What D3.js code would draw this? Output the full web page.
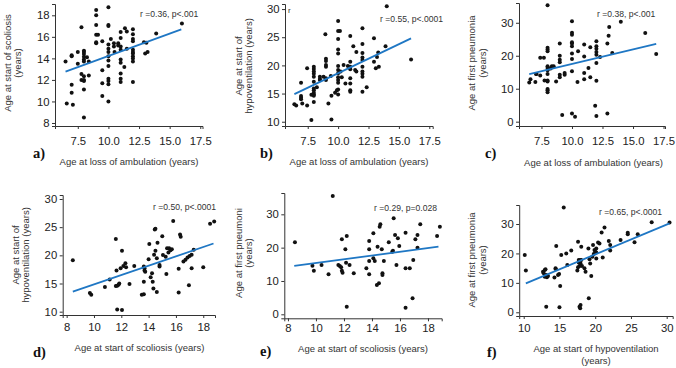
<!DOCTYPE html>
<html><head><meta charset="utf-8">
<script src="https://cdn.jsdelivr.net/npm/d3@7"></script>
<style>
html,body{margin:0;padding:0;background:#fff;}
svg{display:block;font-family:"Liberation Sans",Arial,sans-serif;}
</style></head>
<body>
<svg id="c" width="676" height="368"></svg>
<script>
// ---------- data ----------
// a) scoliosis onset vs loss of ambulation
const ptsA = [[6.5,13.7],[6.6,9.8],[7.0,14.3],[7.0,14.2],[7.0,11.55],[7.0,10.8],[7.1,9.7],[7.5,14.6],[7.5,13.5],[7.8,16.9],[7.8,12.55],[7.8,12.0],
 [8,14.7],[8,14.6],[8,14.4],[8,14.15],[8,13.9],[8,13.7],[8,12.35],[8,12.0],[8,11.9],[8,11.1],[8,8.5],
 [8.25,14.1],[8.4,13.7],[8.4,12.4],
 [9,18.5],[9,18.0],[9,17.1],[9,16.2],[9,15.5],[9,15.4],[9.15,16.2],
 [9.5,15.6],[9.5,12.9],[9.5,11.7],[9.5,10.5],
 [10,18.75],[10,17.1],[10,17.0],[10,15.3],[10,14.9],[10,14.6],[10,14.2],[10,13.8],[10,13.3],[10,12.1],[10,11.9],[10,11.6],[10,10.0],
 [10.2,15.8],[10.45,15.4],[10.45,15.1],[10.5,14.6],[10.8,15.4],[10.8,15.2],
 [11,16.45],[11,15.9],[11,15.1],[11,14.8],[11,13.9],[11,13.6],[11,12.6],[11,12.1],[11,11.8],
 [11.35,16.8],[11.5,16.5],[11.3,13.2],[11.5,14.9],
 [12,16.7],[12,16.25],[12,15.8],[12,15.6],[12,14.8],[12,14.6],[12,14.45],[12,14.2],[12,14.0],[12,13.7],[12,11.8],
 [12.9,15.5],[13.1,15.45],[13.0,14.45],[13.2,14.6],[13.9,16.3],[16.0,17.25]];
const fitA = [[6.5,12.77],[15.95,16.7]];

// b) hypoventilation onset vs loss of ambulation
const ptsB = [[6.4,13.1],[6.55,12.9],[6.95,16.9],[6.95,14.55],[6.95,14.25],[6.95,14.0],[7.05,13.25],[7.45,19.5],[7.45,12.9],[7.8,10.3],
 [8,19.75],[8,19.35],[8,18.9],[8,18.5],[8,18.0],[8,17.1],[8,15.9],[8,15.6],[8,15.15],[8,14.85],[8,14.6],[8,13.5],[7.8,14.8],
 [8.25,16.1],[8.5,18.0],[8.5,17.6],[8.5,17.4],[8.8,18.0],[8.95,25.55],
 [9,21.2],[9,20.8],[9,20.05],[9,19.75],[9,17.7],[9,17.4],[9.2,13.25],[9.4,18.1],[9.45,14.6],[9.45,10.4],[9.75,15.15],[9.9,15.6],
 [10,27.9],[10,26.1],[10,24.7],[10,22.8],[10,22.1],[10,19.9],[10,19.2],[10,18.6],[10,17.9],[10,17.4],[10,16.9],[10,15.7],[10,14.85],
 [10.15,26.1],[10.2,18.9],[10.3,17.9],[10.45,20.05],[10.6,16.8],[10.8,19.9],
 [11,25.2],[11,20.65],[11,19.75],[11,19.3],[11,17.7],[11,16.8],[11,15.6],[11,15.3],
 [11.25,23.4],[11.4,19.2],[11.5,18.9],[11.5,22.4],[12.35,16.1],
 [12,26.6],[12,23.8],[12,22.2],[12,21.4],[12,20.95],[12,19.75],[12,18.9],[12,18.5],[12,18.0],[12,15.3],
 [12.95,24.8],[12.95,20.65],[13.1,19.5],[13.2,21.5],[13.3,22.3],[13.35,19.75],[13.9,23.4],[14.0,30.5],[16.0,21.05]];
const fitB = [[6.4,14.9],[16.0,24.8]];

// c) first pneumonia vs loss of ambulation
const ptsC = [[6.5,11.9],[6.6,12.9],[7.05,14.5],[7.1,14.5],[7.0,12.0],[7.4,19.4],[7.4,14.0],[7.7,19.4],[7.75,12.5],
 [8,35.3],[8,22.4],[8,21.9],[8,21.4],[8,16.8],[8,16.3],[8,15.6],[8,14.5],[8,12.5],[8,12.2],[8,9.9],[8,9.5],[8,8.9],
 [8.25,16.1],[8.35,16.8],[8.5,16.8],[8.7,12.2],
 [9,23.7],[9,20.0],[9,18.8],[9,18.0],[9,14.2],[9,13.5],[9.2,2.0],[9.4,14.2],[9.4,14.75],
 [10,30.5],[10,27.0],[10,26.4],[10,24.1],[10,23.7],[10,22.9],[10,20.65],[10,19.0],[10,15.3],[10,2.5],
 [10.25,1.5],[10.45,12.0],[10.5,21.4],
 [11,23.4],[11,19.8],[11,14.75],[11,12.9],[11.35,16.3],[11.5,13.5],[11.5,22.6],[11.9,4.8],
 [12,24.4],[12,22.9],[12,22.1],[12,21.1],[12,20.3],[12,17.8],[12,12.4],[12,1.7],
 [12.3,19.6],[12.9,23.7],[12.9,2.5],[13.0,26.1],[13.05,28.7],[13.3,20.85],[14.0,30.3],[16.0,26.9],[16.9,20.5]];
const fitC = [[6.5,14.4],[16.9,23.6]];

// d) hypoventilation onset vs scoliosis onset
const ptsD = [[8.45,19.15],[9.7,13.3],[9.8,13.0],[10.8,14.4],[11.15,15.7],[11.6,14.55],[11.6,22.9],[11.65,17.3],[11.7,14.6],[11.8,14.8],[11.85,15.0],
 [11.7,10.4],[12.05,10.3],[11.95,17.7],[12.05,20.8],[12.15,18.1],[12.3,18.6],[12.35,17.9],[12.6,14.9],[12.95,18.1],
 [13.5,13.0],[13.65,13.1],[13.65,18.0],[13.7,17.7],[13.7,17.3],[13.75,17.1],[13.65,15.3],[14.0,19.3],[14.05,22.0],[14.15,16.1],[14.25,16.8],
 [14.3,15.3],[14.35,14.1],[14.4,20.1],[14.45,24.6],[14.5,24.7],[14.5,20.8],[14.6,19.5],[14.6,13.5],[14.65,22.25],[14.8,18.3],[14.8,18.0],
 [15.0,23.4],[15.05,20.05],[15.25,19.75],[15.3,16.7],[15.35,21.25],[15.5,21.25],[15.6,20.9],[15.45,20.5],[15.7,21.1],[15.8,26.1],
 [16.2,13.4],[16.2,17.6],[16.3,23.7],[16.35,23.3],[16.55,18.9],[16.7,19.2],[16.85,19.6],[16.95,14.7],[17.0,19.9],[17.15,20.1],[17.15,17.7],
 [17.3,21.0],[18.0,17.9],[18.5,25.6],[18.8,26.0]];
const fitD = [[8.45,13.55],[18.75,22.1]];

// e) first pneumonia vs scoliosis onset
const ptsE = [[8.5,21.6],[9.75,14.6],[9.85,13.1],[10.4,14.8],[10.9,12.0],[11.2,35.5],[11.6,14.8],[11.7,14.5],[11.8,14.1],[11.85,22.5],[11.85,13.1],[11.9,12.5],
 [12.1,19.5],[12.15,15.5],[12.2,23.5],[12.2,2.3],[12.4,14.8],[12.7,12.3],[13.6,13.8],[13.8,22.0],[13.8,19.5],[13.8,16.0],[13.8,12.0],
 [14.1,16.8],[14.1,24.3],[14.2,16.0],[14.35,8.8],[14.5,9.3],[14.4,20.3],[14.55,26.3],[14.6,27.0],[14.7,19.5],[14.75,12.3],[14.75,11.8],[14.85,16.0],
 [15.2,21.6],[15.45,18.8],[15.5,19.1],[15.55,28.8],[15.65,23.8],[15.75,14.8],[15.85,22.8],[15.95,20.5],
 [16.4,24.5],[16.4,13.8],[16.4,2.0],[16.7,13.8],[16.9,4.8],[16.95,16.3],[17.1,22.5],[17.25,23.8],[17.25,20.0],[17.45,27.0],[18.65,23.5],[18.85,26.3]];
const fitE = [[8.45,14.5],[18.75,20.3]];

// f) first pneumonia vs hypoventilation onset
const ptsF = [[10.15,19.5],[10.3,14.2],[12.7,13.8],[12.8,13.25],[12.95,14.4],[12.95,12.1],[13.05,14.6],[13.15,12.7],[13.25,11.9],[13.15,1.9],[13.4,12.3],
 [14.3,11.8],[14.45,14.95],[14.5,14.6],[14.55,22.5],[14.8,12.7],[14.95,13.0],[15.0,1.7],[15.1,8.9],[15.25,19.5],[15.6,35.6],[15.95,20.0],[16.1,16.1],
 [16.65,21.0],[17.5,14.2],[17.7,16.9],[17.6,15.3],[17.6,24.0],[17.7,17.8],[17.8,15.7],[17.9,17.8],[17.95,16.6],[17.8,1.9],[17.9,1.4],[17.95,2.5],
 [18.05,22.3],[18.05,17.8],[18.15,15.7],[18.5,14.95],[18.65,13.8],[19.05,21.7],[19.1,4.8],[19.2,18.0],[19.45,12.3],[19.3,16.6],[19.6,18.9],[19.7,22.9],
 [19.8,19.8],[19.9,21.2],[20.0,20.6],[20.15,20.3],[20.15,18.3],[20.15,21.7],[20.4,23.7],[20.6,23.4],[20.9,27.1],[21.05,18.6],[21.3,28.8],
 [21.9,24.2],[22.1,22.9],[22.1,21.0],[23.55,24.6],[24.55,26.5],[24.55,27.0],[25.5,23.8],[25.95,26.5],[27.9,30.6],[30.4,30.5]];
const fitF = [[10.3,9.85],[30.4,30.2]];

// tick labels
const ticksAmbulation = [7.5, 10, 12.5, 15, 17.5];
const ticksScoliosisX = [8, 10, 12, 14, 16, 18];
const ticksHypoX = [10, 15, 20, 25, 30];
const ticksScoliosisY = [8, 10, 12, 14, 16, 18];
const ticksHypoY = [10, 15, 20, 25, 30];
const ticksPneumoY = [0, 10, 20, 30];

// annotations / titles
const statsText = ["r =0.36, p<.001", "r =0.55, p<.0001", "r =0.38, p<.001", "r =0.50, p<.0001", "r =0.29, p=0.028", "r =0.65, p<.0001"];
const panelLetters = ["a)", "b)", "c)", "d)", "e)", "f)"];

// ---------- layout (positions & styles only) ----------
const panels = [
 {pts:ptsA, fit:fitA, xt:ticksAmbulation, yt:ticksScoliosisY, xfmt:".1f", xpad:8,
  xd:[5.64,17.68], xr:[55,202.5], yd:[7.72,19.05], yr:[126,4],
  ytitle:["Age at start of scoliosis","(years)"], yl:[7.5,17], yc:63,
  xtitle:["Age at loss of ambulation (years)"], xtc:129, xty:[161.5],
  stat:[140,14], letter:[33,158]},
 {pts:ptsB, fit:fitB, xt:ticksAmbulation, yt:ticksHypoY, xfmt:".1f", xpad:8,
  xd:[5.63,17.78], xr:[285,432.7], yd:[9.24,30.9], yr:[126,4],
  ytitle:["Age at start of","hypoventilation (years)"], yl:[238.5,248.5], yc:66,
  xtitle:["Age at loss of ambulation (years)"], xtc:359, xty:[161.5],
  stat:[380,19], letter:[260,158], extra:true},
 {pts:ptsC, fit:fitC, xt:ticksAmbulation, yt:ticksPneumoY, xfmt:".1f", xpad:8,
  xd:[5.66,17.62], xr:[519,665], yd:[-1.31,36.0], yr:[126,3],
  ytitle:["Age at first pneumonia","(years)"], yl:[471,482], yc:63,
  xtitle:["Age at loss of ambulation (years)"], xtc:593.5, xty:[162],
  stat:[597,14.3], letter:[485,158]},
 {pts:ptsD, fit:fitD, xt:ticksScoliosisX, yt:ticksHypoY, xfmt:"d", xpad:5,
  xd:[7.71,18.86], xr:[62.7,215], yd:[9.41,30.71], yr:[315,195],
  ytitle:["Age at start of","hypoventilation (years)"], yl:[15,25], yc:255,
  xtitle:["Age at start of scoliosis (years)"], xtc:139.5, xty:[347.5],
  stat:[153,206.7], letter:[33,357]},
 {pts:ptsE, fit:fitE, xt:ticksScoliosisX, yt:ticksPneumoY, xfmt:"d", xpad:3,
  xd:[7.74,18.98], xr:[284.3,441.7], yd:[-1.2,36.4], yr:[318.3,193],
  ytitle:["Age at first pneumoni","(years)"], yl:[238.5,248.5], yc:253,
  xtitle:["Age at start of scoliosis (years)"], xtc:363, xty:[348],
  stat:[374,208.3], letter:[260,356]},
 {pts:ptsF, fit:fitF, xt:ticksHypoX, yt:ticksPneumoY, xfmt:"d", xpad:4.5,
  xd:[9.37,30.84], xr:[519.2,672.7], yd:[-1.26,36.46], yr:[316,205],
  ytitle:["Age at first pneumonia","(years)"], yl:[471,482], yc:260,
  xtitle:["Age at start of hypoventilation","(years)"], xtc:596, xty:[348.3,360],
  stat:[599,212.3], letter:[487,357]}
];

const svg = d3.select("#c");
const AXIS = "#333";

panels.forEach((p, i) => {
  const x = d3.scaleLinear().domain(p.xd).range(p.xr);
  const y = d3.scaleLinear().domain(p.yd).range(p.yr);
  const g = svg.append("g");

  const xa = g.append("g").attr("transform", `translate(0,${p.yr[0]})`)
    .call(d3.axisBottom(x).tickValues(p.xt).tickFormat(d3.format(p.xfmt)).tickSizeOuter(0).tickSize(3).tickPadding(p.xpad));
  const ya = g.append("g").attr("transform", `translate(${p.xr[0]},0)`)
    .call(d3.axisLeft(y).tickValues(p.yt).tickSizeOuter(0).tickSize(3).tickPadding(2.5));
  [xa, ya].forEach(a => {
    a.selectAll("path,line").attr("stroke", AXIS).attr("stroke-width", 1);
    a.selectAll("text").attr("fill", "#222").style("font-size", "11.3px")
      .style("font-family", "'Liberation Sans', Arial, sans-serif");
  });

  // points
  g.append("g").selectAll("circle").data(p.pts).join("circle")
    .attr("cx", d => x(d[0])).attr("cy", d => y(d[1])).attr("r", 2).attr("fill", "#111");

  // fit line
  g.append("path").datum(p.fit)
    .attr("d", d3.line().x(d => x(d[0])).y(d => y(d[1])))
    .attr("stroke", "#1f77c4").attr("stroke-width", 1.8).attr("fill", "none");

  // stats
  g.append("text").attr("x", p.stat[0]).attr("y", p.stat[1]).attr("dominant-baseline", "central")
    .style("font-size", "8.6px").attr("fill", "#333").text(statsText[i]);

  // y title
  p.ytitle.forEach((t, k) => {
    g.append("text").attr("transform", `translate(${p.yl[k]},${p.yc}) rotate(-90)`)
      .attr("text-anchor", "middle").attr("dominant-baseline", "central")
      .style("font-size", "9.5px").attr("fill", "#333").text(t);
  });
  // x title
  p.xtitle.forEach((t, k) => {
    g.append("text").attr("x", p.xtc).attr("y", p.xty[k]).attr("text-anchor", "middle")
      .attr("dominant-baseline", "central").style("font-size", "9.5px").attr("fill", "#333").text(t);
  });
  // letter
  g.append("text").attr("x", p.letter[0]).attr("y", p.letter[1])
    .style("font-family", "'Liberation Serif','Times New Roman',serif").style("font-weight", "bold")
    .style("font-size", "14.5px").attr("fill", "#111").text(panelLetters[i]);

  if (p.extra) {
    g.append("text").attr("x", p.xr[0] + 3).attr("y", 10).attr("dominant-baseline", "central")
      .style("font-size", "8px").attr("fill", "#333").text("r");
  }
});
</script>
</body></html>
